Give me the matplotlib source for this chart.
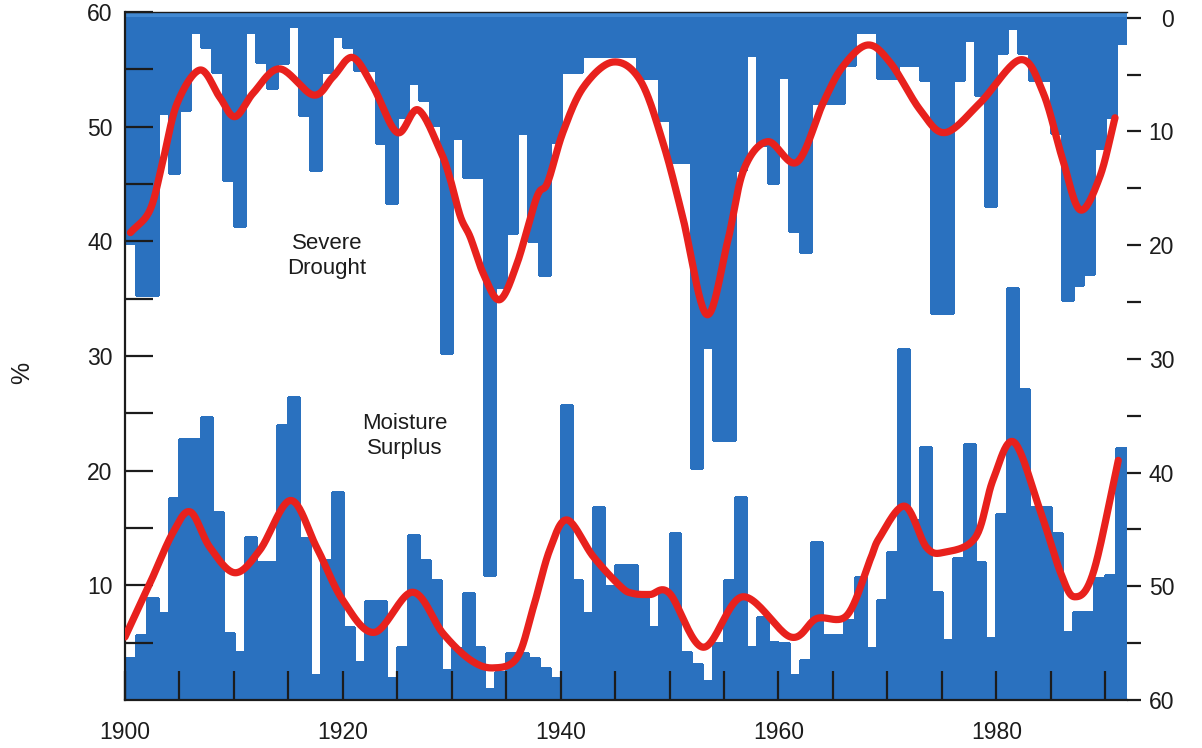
import numpy as np
import matplotlib
matplotlib.use("Agg")
import matplotlib.pyplot as plt

plt.rcParams['font.family'] = ['Liberation Sans', 'DejaVu Sans']

# ---- data -------------------------------------------------------------
years = list(range(1900, 1992))

# percent of area with severe moisture surplus (left axis, bars from bottom)
moisture = [3.7, 5.7, 8.9, 7.6, 17.6, 22.8, 22.8, 24.7, 16.4, 5.8,
            4.2, 14.2, 12.0, 12.0, 24.0, 26.4, 14.1, 2.2, 12.2, 18.1,
            6.4, 3.3, 8.6, 8.6, 1.9, 4.6, 14.4, 12.2, 10.5, 2.6,
            4.5, 9.3, 4.6, 1.0, 2.4, 4.1, 4.1, 3.7, 2.8, 1.9,
            25.7, 10.5, 7.6, 16.8, 9.9, 11.8, 11.8, 9.3, 6.4, 9.6,
            14.6, 4.2, 3.1, 1.7, 5.0, 10.5, 17.7, 4.6, 7.2, 5.1,
            5.0, 2.2, 3.5, 13.8, 5.7, 5.7, 7.0, 10.7, 4.5, 8.7,
            12.9, 30.6, 15.7, 22.1, 9.4, 5.2, 12.4, 22.3, 12.0, 5.4,
            16.2, 35.9, 27.1, 16.8, 16.8, 14.6, 5.9, 7.7, 7.7, 10.6,
            10.9, 22.0]

# percent of area in severe drought (right axis, bars hanging from top)
drought = [19.8, 24.4, 24.4, 8.4, 13.7, 8.1, 1.3, 2.6, 4.8, 14.3,
           18.3, 1.3, 3.9, 6.2, 4.0, 0.7, 8.6, 13.4, 4.8, 1.6,
           2.6, 4.6, 4.6, 11.0, 16.3, 8.7, 5.7, 7.2, 9.4, 29.5,
           10.6, 14.0, 14.0, 49.0, 23.7, 18.9, 10.1, 19.6, 22.6, 10.9,
           4.8, 4.8, 3.4, 3.4, 3.4, 3.4, 3.4, 5.3, 5.3, 9.0,
           12.7, 12.7, 39.6, 29.0, 37.1, 37.1, 13.4, 3.3, 11.2, 14.5,
           5.2, 18.8, 20.6, 7.5, 7.5, 7.5, 4.2, 1.3, 1.3, 5.3,
           5.3, 4.2, 4.2, 5.5, 26.0, 26.0, 5.5, 2.0, 6.8, 16.6,
           3.1, 0.9, 3.1, 5.5, 5.5, 10.1, 24.8, 23.5, 22.5, 11.5,
           8.7, 2.2]

# smoothed series (year, percent)
moist_smooth_t = [1900.0, 1902.3, 1904.4, 1906.0, 1907.8, 1910.1, 1912.4, 1915.2,
                  1917.6, 1920.0, 1922.9, 1926.4, 1929.2, 1931.7, 1933.8, 1936.0,
                  1937.5, 1939.0, 1940.6, 1943.0, 1945.5, 1946.6, 1948.2, 1950.0,
                  1953.1, 1956.7, 1961.1, 1963.5, 1966.3, 1968.4, 1969.3, 1971.6,
                  1973.6, 1975.3, 1978.1, 1979.7, 1981.6, 1984.0, 1985.9, 1987.2,
                  1988.9, 1991.2]
moist_smooth_v = [5.5, 10.2, 14.6, 16.4, 13.3, 11.1, 13.1, 17.4,
                  13.3, 8.7, 5.9, 9.4, 5.8, 3.5, 2.8, 3.7,
                  8.1, 13.1, 15.7, 12.5, 9.9, 9.3, 9.2, 9.3,
                  4.6, 9.0, 5.5, 7.1, 7.4, 12.2, 14.2, 16.9,
                  13.3, 12.9, 14.2, 19.2, 22.5, 16.6, 11.1, 9.0,
                  11.1, 20.9]

drought_smooth_t = [1900.5, 1902.3, 1903.5, 1904.8, 1906.9, 1908.7, 1910.1, 1911.8,
                    1914.2, 1917.3, 1919.1, 1920.9, 1922.8, 1925.0, 1926.9, 1928.9,
                    1929.8, 1930.8, 1931.7, 1932.9, 1934.4, 1936.0, 1937.8, 1938.8,
                    1940.2, 1942.1, 1944.8, 1947.3, 1949.4, 1951.2, 1953.4, 1955.3,
                    1956.8, 1959.0, 1961.7, 1964.1, 1965.9, 1968.2, 1970.3, 1973.0,
                    1975.3, 1978.5, 1982.2, 1984.3, 1986.1, 1987.7, 1989.5, 1990.9]
drought_smooth_v = [18.9, 16.9, 12.5, 7.5, 4.6, 7.0, 8.7, 6.6,
                    4.5, 6.8, 5.2, 3.5, 6.1, 10.1, 8.1, 11.6,
                    14.0, 17.5, 19.3, 22.5, 24.8, 21.6, 15.8, 14.5,
                    10.1, 6.1, 3.9, 5.5, 11.0, 17.5, 26.1, 19.8,
                    13.4, 10.9, 12.7, 7.5, 4.3, 2.4, 4.0, 8.1,
                    10.1, 7.5, 3.7, 6.6, 12.5, 16.9, 14.0, 8.8]

left_ticks = list(range(5, 61, 5))
right_ticks = list(range(0, 61, 5))
year_ticks = list(range(1900, 1992, 5))
year_labels = [1900, 1920, 1940, 1960, 1980]

BLUE = '#2a71bf'
BAND = '#4289d2'
RED = '#e8211d'
INK = '#1c1c1c'


def catmull_rom(xs, ys, n=24):
    """Smooth curve through the given points (uniform Catmull-Rom)."""
    x = np.asarray(xs, float)
    y = np.asarray(ys, float)
    px = np.concatenate([[2 * x[0] - x[1]], x, [2 * x[-1] - x[-2]]])
    py = np.concatenate([[2 * y[0] - y[1]], y, [2 * y[-1] - y[-2]]])
    s = np.linspace(0, 1, n, endpoint=False)
    ox, oy = [], []
    for i in range(1, len(px) - 2):
        for arr, out in ((px, ox), (py, oy)):
            p0, p1, p2, p3 = arr[i - 1], arr[i], arr[i + 1], arr[i + 2]
            out.append(0.5 * (2 * p1 + (-p0 + p2) * s
                              + (2 * p0 - 5 * p1 + 4 * p2 - p3) * s ** 2
                              + (-p0 + 3 * p1 - 3 * p2 + p3) * s ** 3))
    ox.append([x[-1]])
    oy.append([y[-1]])
    return np.concatenate(ox), np.concatenate(oy)


# ---- figure -----------------------------------------------------------
fig = plt.figure(figsize=(12.02, 7.48), dpi=100)
ax = fig.add_axes([125 / 1202, 48 / 748, 1002 / 1202, 688 / 748])
ax2 = ax.twinx()

ax.set_xlim(1900, 1992)
ax.set_ylim(0, 60)
ax2.set_ylim(60, -0.5)

# drought bars hang from the top on the inverted right axis
ax2.axhspan(-0.5, 0.8, color=BAND, lw=0, zorder=1)
ax2.bar(years, drought, width=1.0, align='edge', color=BLUE,
        edgecolor=BLUE, linewidth=1.0, antialiased=False, zorder=1)
dx, dy = catmull_rom(drought_smooth_t, drought_smooth_v)
ax2.plot(dx, dy, color=RED, lw=5.2, solid_capstyle='round',
         solid_joinstyle='round', zorder=3)

# moisture bars rise from the bottom on the left axis
ax.bar(years, moisture, width=1.0, align='edge', color=BLUE,
       edgecolor=BLUE, linewidth=1.0, antialiased=False, zorder=1)
mx, my = catmull_rom(moist_smooth_t, moist_smooth_v)
ax.plot(mx, my, color=RED, lw=5.2, solid_capstyle='round',
        solid_joinstyle='round', zorder=3)

# left axis drawn on top so its inward ticks show over the drought bars
ax.set_zorder(ax2.get_zorder() + 1)
ax.patch.set_visible(False)

# ---- axes styling -----------------------------------------------------
ax.spines['right'].set_visible(False)
for side in ('left', 'right', 'top', 'bottom'):
    ax2.spines[side].set_visible(False)
ax.spines['left'].set_linewidth(1.6)
ax.spines['bottom'].set_linewidth(1.6)
ax.spines['top'].set_linewidth(1.0)
for side in ('left', 'bottom', 'top'):
    ax.spines[side].set_color(INK)

ax.set_yticks(left_ticks)
ax.set_yticklabels([str(v) if v % 10 == 0 else '' for v in left_ticks])
ax.tick_params(axis='y', direction='in', length=20, width=1.6, color=INK,
               labelsize=16.5, labelcolor=INK, pad=9, right=False)

ax.set_xticks(year_ticks)
ax.set_xticklabels([str(v) if v in year_labels else '' for v in year_ticks])
ax.tick_params(axis='x', direction='in', length=21, width=1.6, color=INK,
               labelsize=16.5, labelcolor=INK, pad=15, top=False)

ax2.set_yticks(right_ticks)
ax2.set_yticklabels([str(v) if v % 10 == 0 else '' for v in right_ticks])
ax2.tick_params(axis='y', direction='out', length=10, width=1.6, color=INK,
                labelsize=16.5, labelcolor=INK, pad=24)
for lab in ax2.get_yticklabels():
    lab.set_horizontalalignment('right')

fig.text(22 / 1202, 1 - 373 / 748, '%', rotation=90, ha='center',
         va='center', fontsize=18, color=INK)

ax.text(1918.55, 38.7, 'Severe\nDrought', ha='center', va='center',
        fontsize=16, color=INK, linespacing=1.25, zorder=4)
ax.text(1925.7, 23.0, 'Moisture\nSurplus', ha='center', va='center',
        fontsize=16, color=INK, linespacing=1.25, zorder=4)

fig.savefig('out.png', dpi=100)
